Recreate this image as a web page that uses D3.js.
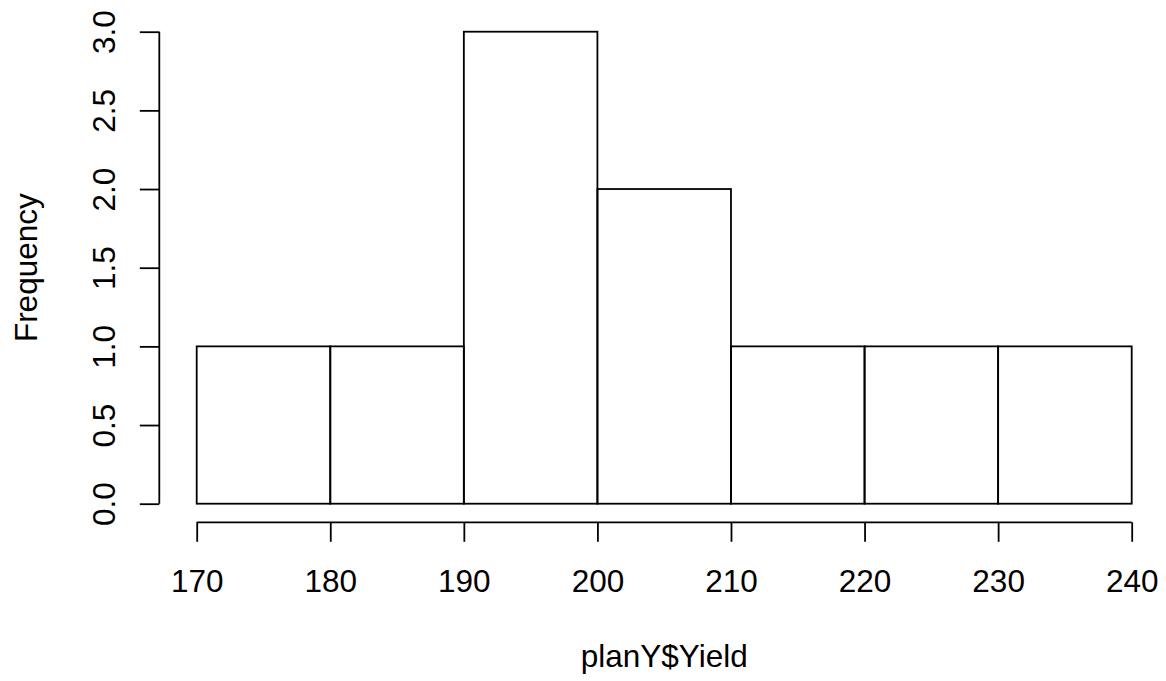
<!DOCTYPE html>
<html>
<head>
<meta charset="utf-8">
<script src="https://cdn.jsdelivr.net/npm/d3@7"></script>
<style>
  body { margin: 0; background: #fff; }
  text { font-family: "Liberation Sans", Arial, sans-serif; fill: #000; }
</style>
</head>
<body>
<div id="chart"></div>
<script>
// histogram bins of planY$Yield
var binStart = [170, 180, 190, 200, 210, 220, 230]
var binEnd = [180, 190, 200, 210, 220, 230, 240]
var counts = [1, 1, 3, 2, 1, 1, 1]
var xTicks = [170, 180, 190, 200, 210, 220, 230, 240]
var yTicks = [0, 0.5, 1, 1.5, 2, 2.5, 3]

var width = 1166
var height = 681
var fontSize = 31.5

var x = d3.scaleLinear()
    .domain([170, 240])
    .range([196.7, 1131.7])

var y = d3.scaleLinear()
    .domain([0, 3])
    .range([503.7, 31.7])

var svg = d3.select('#chart').append('svg')
    .attr('width', width)
    .attr('height', height)

svg.append('g')
    .attr('class', 'bars')
    .selectAll('rect')
    .data(counts)
    .enter().append('rect')
    .attr('x', function(d, i) { return x(binStart[i]) })
    .attr('width', function(d, i) { return x(binEnd[i]) - x(binStart[i]) })
    .attr('y', function(d) { return y(d) })
    .attr('height', function(d) { return y(0) - y(d) })
    .attr('fill', 'none')
    .attr('stroke', '#000')
    .attr('stroke-width', 1.8)

// x axis
var xAxis = svg.append('g')
    .attr('transform', 'translate(0,522.3)')
    .call(d3.axisBottom(x).tickValues(xTicks).tickSize(19.5).tickSizeOuter(0).tickPadding(28))
xAxis.selectAll('path, line').attr('stroke', '#000').attr('stroke-width', 1.8)
xAxis.select('.domain').attr('d', 'M' + x(170) + ',0H' + x(240))
xAxis.selectAll('text')
    .style('font-family', '"Liberation Sans", Arial, sans-serif')
    .style('font-size', fontSize + 'px')

// y axis
var yAxis = svg.append('g')
    .attr('transform', 'translate(159.3,0)')
    .call(d3.axisLeft(y).tickValues(yTicks).tickSize(19.5).tickSizeOuter(0)
        .tickFormat(d3.format('.1f')))
yAxis.selectAll('path, line').attr('stroke', '#000').attr('stroke-width', 1.8)
yAxis.select('.domain').attr('d', 'M0,' + y(0) + 'V' + y(3))
yAxis.selectAll('text')
    .style('font-family', '"Liberation Sans", Arial, sans-serif')
    .style('font-size', fontSize + 'px')
    .attr('x', null)
    .attr('dy', null)
    .attr('text-anchor', 'middle')
    .attr('transform', 'translate(-44,0) rotate(-90)')

// axis titles
svg.append('text')
    .attr('x', (x(170) + x(240)) / 2)
    .attr('y', 667)
    .attr('text-anchor', 'middle')
    .style('font-size', fontSize + 'px')
    .text('planY$Yield')

svg.append('text')
    .attr('transform', 'translate(37,' + (y(0) + y(3)) / 2 + ') rotate(-90)')
    .attr('text-anchor', 'middle')
    .style('font-size', fontSize + 'px')
    .text('Frequency')
</script>
</body>
</html>
